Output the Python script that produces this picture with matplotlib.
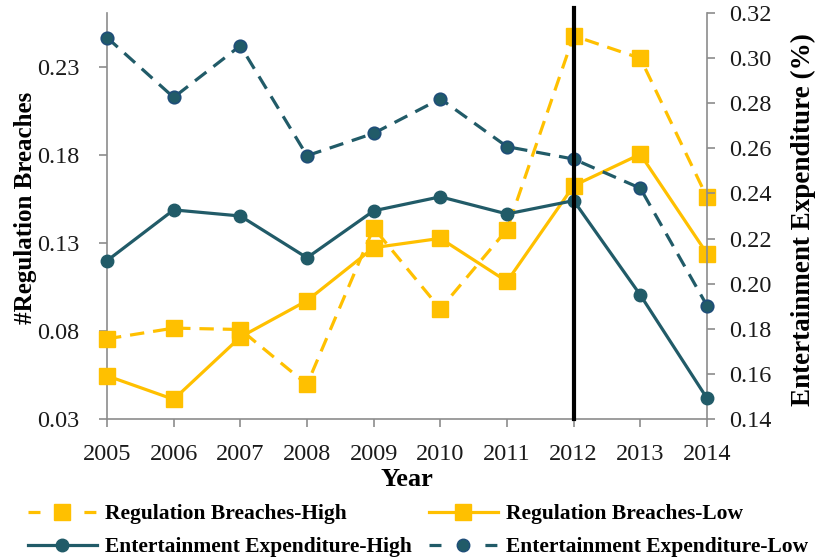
import matplotlib
matplotlib.use("Agg")
import matplotlib.pyplot as plt
from matplotlib.lines import Line2D

plt.rcParams["font.family"] = ["Liberation Serif", "DejaVu Serif"]

years = [2005, 2006, 2007, 2008, 2009, 2010, 2011, 2012, 2013, 2014]

# Regulation breaches (left axis)
breaches_high = [0.0757, 0.0818, 0.0810, 0.0498, 0.1387, 0.0927, 0.1378, 0.2479, 0.2351, 0.1561]
breaches_low = [0.0547, 0.0413, 0.0767, 0.0974, 0.1275, 0.1328, 0.1083, 0.1627, 0.1806, 0.1241]

# Entertainment expenditure (right axis)
expend_high = [0.2102, 0.2327, 0.2300, 0.2115, 0.2323, 0.2385, 0.2309, 0.2368, 0.1950, 0.1493]
expend_low = [0.3090, 0.2825, 0.3054, 0.2567, 0.2666, 0.2819, 0.2607, 0.2552, 0.2423, 0.1903]

left_ticks = [0.03, 0.08, 0.13, 0.18, 0.23]
right_ticks = [0.14, 0.16, 0.18, 0.20, 0.22, 0.24, 0.26, 0.28, 0.30, 0.32]
event_year = 2012

YELLOW = "#FFC000"
TEAL = "#215B68"
NAVY_EDGE = "#1F4E79"
GRAY = "#8C8C8C"
dash = (0, (4.5, 2.8))
legend_dash = (0, (3.75, 5.0))

fig = plt.figure(figsize=(8.15, 5.6), dpi=100)
ax = fig.add_axes([0.1313, 0.2513, 0.7362, 0.726])
ax2 = ax.twinx()

ax.plot(years, breaches_high, color=YELLOW, lw=2.3, ls=dash, marker="s", ms=11,
        mfc=YELLOW, mec=YELLOW, clip_on=False, zorder=3)
ax.plot(years, breaches_low, color=YELLOW, lw=2.3, ls="-", marker="s", ms=11,
        mfc=YELLOW, mec=YELLOW, clip_on=False, zorder=3)
ax2.plot(years, expend_high, color=TEAL, lw=2.3, ls="-", marker="o", ms=9,
         mfc=TEAL, mec=TEAL, clip_on=False, zorder=3)
ax2.plot(years, expend_low, color=TEAL, lw=2.3, ls=dash, marker="o", ms=9,
         mfc=TEAL, mec=NAVY_EDGE, mew=1.2, clip_on=False, zorder=3)
ax2.axvline(event_year, ymin=0, ymax=1.0115, color="black", lw=3, clip_on=False, zorder=5)

ax.set_xlim(years[0], years[-1])
ax.set_ylim(0.03, 0.261)
ax2.set_ylim(0.14, 0.32)
ax.set_xticks(years)
ax.set_xticklabels([str(y) for y in years])
ax.set_yticks(left_ticks)
ax.set_yticklabels([f"{t:.2f}" for t in left_ticks])
ax2.set_yticks(right_ticks)
ax2.set_yticklabels([f"{t:.2f}" for t in right_ticks])

for a in (ax, ax2):
    a.spines["top"].set_visible(False)
    for s in ("left", "right", "bottom"):
        a.spines[s].set_color(GRAY)
        a.spines[s].set_linewidth(1.2)
    a.tick_params(direction="out", length=6, width=1.2, color=GRAY,
                  labelsize=17.5, labelcolor="#1a1a1a")
ax.tick_params(axis="y", pad=14)
ax.tick_params(axis="x", pad=12)
ax2.tick_params(axis="y", pad=10)
ax.spines["right"].set_visible(False)
ax2.spines["left"].set_visible(False)
ax2.spines["bottom"].set_visible(False)

ax.set_xlabel("Year", fontsize=19, fontweight="bold")
ax.set_ylabel("#Regulation Breaches", fontsize=18, fontweight="bold")
ax2.set_ylabel("Entertainment Expenditure (%)", fontsize=19.5, fontweight="bold", rotation=90)
ax.xaxis.set_label_coords(0.5, -0.12)
ax.yaxis.set_label_coords(-0.116, 0.52)
ax2.yaxis.set_label_coords(1.14, 0.49)

handles = [
    Line2D([], [], color=YELLOW, lw=2.3, ls=legend_dash, marker="s", ms=11, mfc=YELLOW, mec=YELLOW),
    Line2D([], [], color=TEAL, lw=2.3, ls="-", marker="o", ms=9, mfc=TEAL, mec=TEAL),
    Line2D([], [], color=YELLOW, lw=2.3, ls="-", marker="s", ms=11, mfc=YELLOW, mec=YELLOW),
    Line2D([], [], color=TEAL, lw=2.3, ls=legend_dash, marker="o", ms=9, mfc=TEAL, mec=NAVY_EDGE),
]
labels = ["Regulation Breaches-High", "Entertainment Expenditure-High",
          "Regulation Breaches-Low", "Entertainment Expenditure-Low"]
fig.legend(handles, labels, ncol=2, loc="upper left", bbox_to_anchor=(28 / 815, 1 - 504 / 560),
           frameon=False, borderpad=0, borderaxespad=0, handlelength=3.2, handletextpad=0.37,
           columnspacing=0.8, labelspacing=0.62,
           prop={"family": ["Liberation Serif"], "weight": "bold", "size": 15.5})

fig.savefig("out.png", dpi=100)
